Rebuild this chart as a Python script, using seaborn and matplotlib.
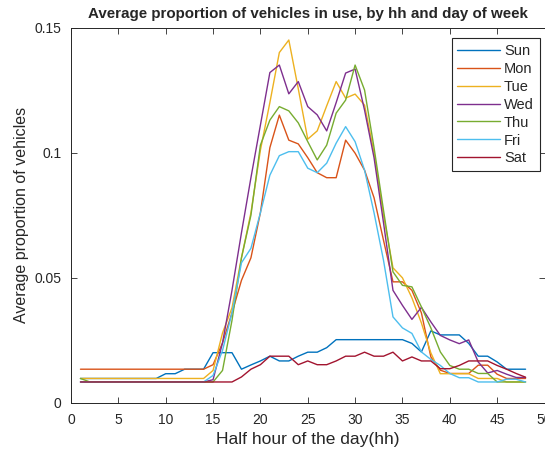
import matplotlib
matplotlib.use("Agg")
import matplotlib.pyplot as plt
import pandas as pd
import seaborn as sns

# Half-hour slots of the day
half_hours = list(range(1, 49))
days = ["Sun", "Mon", "Tue", "Wed", "Thu", "Fri", "Sat"]

sun = [0.0098] * 9 + [0.0117, 0.0117] + [0.0135] * 3 + [0.0201] * 3 + [
    0.0135, 0.0152, 0.0168, 0.0187, 0.0168, 0.0168, 0.0187, 0.0203, 0.0203,
    0.0221] + [0.0253] * 8 + [
    0.0238, 0.0204, 0.0288, 0.0272, 0.0272, 0.0272, 0.0238, 0.0187, 0.0187,
    0.0164, 0.0135, 0.0135, 0.0135]

mon = [0.0135] * 14 + [
    0.0153, 0.024, 0.036, 0.049, 0.058, 0.076, 0.102, 0.115, 0.105, 0.1035,
    0.098, 0.092, 0.090, 0.090, 0.105, 0.0998, 0.093, 0.082, 0.065, 0.0484,
    0.0484, 0.045, 0.036, 0.0184, 0.0131, 0.0118, 0.0118, 0.0118, 0.0151,
    0.0151, 0.0115, 0.0098, 0.0098, 0.0098]

tue = [0.0098] * 14 + [
    0.013, 0.028, 0.038, 0.058, 0.076, 0.101, 0.120, 0.140, 0.145, 0.1255,
    0.1054, 0.1087, 0.1187, 0.1284, 0.1218, 0.1234, 0.119, 0.100, 0.075,
    0.054, 0.050, 0.042, 0.032, 0.020, 0.0117, 0.0117, 0.0117, 0.0117,
    0.0098, 0.0098, 0.0098, 0.0084, 0.0084, 0.0084]

wed = [0.0084] * 14 + [
    0.0093, 0.024, 0.045, 0.068, 0.090, 0.111, 0.132, 0.135, 0.1235, 0.1284,
    0.1184, 0.1151, 0.1087, 0.120, 0.1318, 0.1334, 0.117, 0.098, 0.072,
    0.045, 0.039, 0.0334, 0.0382, 0.0324, 0.027, 0.0252, 0.0237, 0.0252,
    0.0164, 0.012, 0.013, 0.0115, 0.0102, 0.0102]

thu = [0.0098] + [0.0084] * 14 + [
    0.013, 0.033, 0.058, 0.075, 0.103, 0.113, 0.1184, 0.1167, 0.1119, 0.1044,
    0.0971, 0.103, 0.1158, 0.121, 0.135, 0.125, 0.102, 0.077, 0.0524, 0.047,
    0.0464, 0.0384, 0.030, 0.0204, 0.015, 0.0135, 0.0135, 0.0118, 0.0118,
    0.0084, 0.0084, 0.0084, 0.0084]

fri = [0.0084] * 14 + [
    0.011, 0.021, 0.036, 0.056, 0.0618, 0.076, 0.091, 0.0988, 0.1004, 0.1004,
    0.0938, 0.092, 0.0958, 0.1038, 0.1104, 0.1044, 0.093, 0.076, 0.057,
    0.0344, 0.030, 0.0278, 0.0204, 0.0174, 0.015, 0.0118, 0.0101, 0.0101,
    0.0084, 0.0084, 0.0084, 0.0095, 0.0095, 0.0084]

sat = [0.0084] * 17 + [
    0.0104, 0.0135, 0.0153, 0.0187, 0.0187, 0.0187, 0.0153, 0.0168, 0.0153,
    0.0153, 0.0168, 0.0187, 0.0187, 0.0203, 0.0187, 0.0187, 0.0203, 0.0168,
    0.0184, 0.0168, 0.0168, 0.0137, 0.0137, 0.015, 0.0168, 0.0168, 0.0168,
    0.015, 0.0135, 0.0118, 0.0103]

series = [sun, mon, tue, wed, thu, fri, sat]
day_colors = ["#0072BD", "#D95319", "#EDB120", "#7E2F8E",
              "#77AC30", "#4DBEEE", "#A2142F"]

x_ticks = [0, 5, 10, 15, 20, 25, 30, 35, 40, 45, 50]
y_ticks = [0, 0.05, 0.1, 0.15]
y_tick_labels = ["0", "0.05", "0.1", "0.15"]

df = pd.concat(
    [pd.DataFrame({"hh": half_hours, "proportion": vals, "day": d})
     for d, vals in zip(days, series)],
    ignore_index=True,
)

sns.set_style("ticks")
plt.rcParams["font.family"] = ["Liberation Sans", "DejaVu Sans"]

fig = plt.figure(figsize=(5.45, 4.5), dpi=100)
ax = fig.add_axes([71 / 545, 47 / 450, 473.5 / 545, 375.5 / 450])

sns.lineplot(data=df, x="hh", y="proportion", hue="day", hue_order=days,
             palette=day_colors, linewidth=1.0, estimator=None, ax=ax)

ax.set_xlim(0, 50)
ax.set_ylim(0, 0.15)
ax.set_xticks(x_ticks)
ax.set_yticks(y_ticks)
ax.set_yticklabels(y_tick_labels)
ax.tick_params(direction="in", top=True, right=True, length=4, width=0.6,
               labelsize=10, colors="#262626")
ax.tick_params(axis="y", pad=7)
ax.tick_params(axis="x", pad=7)
for side in ["top", "right", "bottom", "left"]:
    ax.spines[side].set_visible(True)
    ax.spines[side].set_linewidth(0.7)
    ax.spines[side].set_color("#262626")

ax.set_xlabel("Half hour of the day(hh)", fontsize=12.5, color="#262626",
              labelpad=4)
ax.set_ylabel("Average proportion of vehicles", fontsize=11.5,
              color="#262626", labelpad=4)
ax.set_title("Average proportion of vehicles in use, by hh and day of week",
             fontsize=10.9, fontweight="bold", pad=7)

leg = ax.legend(loc="upper right", bbox_to_anchor=(0.99, 0.972),
                fontsize=10.5, frameon=True, fancybox=False, framealpha=1,
                edgecolor="#262626", handlelength=2.9, handletextpad=0.3,
                labelspacing=0.27, borderpad=0.4, borderaxespad=0)
leg.get_frame().set_linewidth(0.8)

fig.savefig("out.png", dpi=100)
